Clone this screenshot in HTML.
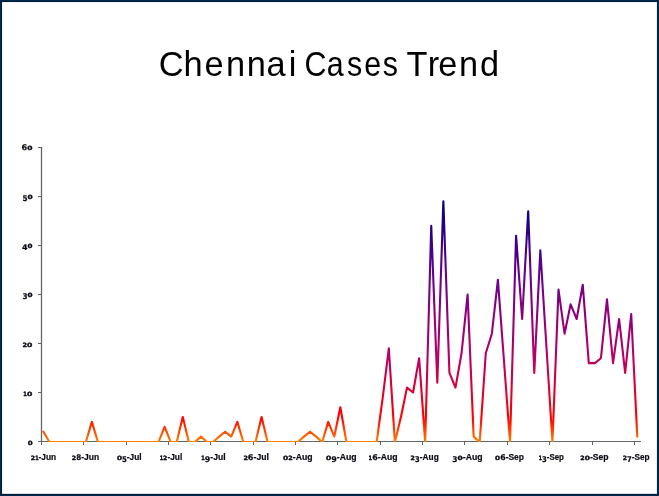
<!DOCTYPE html>
<html lang="en"><head><meta charset="utf-8"><title>Chennai Cases Trend</title>
<style>
html,body{margin:0;padding:0;background:#fff;}
body{width:659px;height:496px;overflow:hidden;position:relative;font-family:"Liberation Sans",sans-serif;}
svg{display:block;position:absolute;left:0;top:0;}
.t{font-family:"Liberation Sans",sans-serif;fill:#000;}
.l{font-family:"Liberation Sans",sans-serif;font-weight:bold;fill:#0a0a14;stroke:#0a0a14;stroke-width:0.2px;}
.d{font-family:"DejaVu Sans",sans-serif;}
.s{stroke-width:0.35px;}
</style></head><body>
<svg width="659" height="496" viewBox="0 0 659 496">
<defs>
<linearGradient id="g" gradientUnits="userSpaceOnUse" x1="0" y1="200.5" x2="0" y2="442">
<stop offset="0" stop-color="#000082"/>
<stop offset="0.3" stop-color="#66008F"/>
<stop offset="0.65" stop-color="#BA0066"/>
<stop offset="0.9" stop-color="#FF0000"/>
<stop offset="1" stop-color="#FF8200"/>
</linearGradient>
<clipPath id="c"><rect x="0" y="0" width="659" height="442"/></clipPath>
</defs>
<rect x="0" y="0" width="659" height="496" fill="#02284A"/>
<rect x="1" y="1" width="657" height="494" fill="#011D3D"/>
<rect x="2.05" y="2.05" width="654.9" height="491.8" fill="#fff"/>
<text class="t" font-size="36" transform="scale(0.9549,1)" x="166.15 192.07 214.12 236.61 258.45 279.16 302.42" y="75.8">Chennai</text>
<text class="t" font-size="36" transform="scale(0.8449,1)" x="360.28 386.67 410.63 431.00 452.88" y="75.8">Cases</text>
<text class="t" font-size="36" transform="scale(0.9521,1)" x="426.95 449.20 460.37 482.08 504.13" y="75.8">Trend</text>
<g stroke="#646464" fill="none"><line x1="41.5" y1="147" x2="41.5" y2="442" stroke-width="1.3"/><g stroke-width="1" shape-rendering="crispEdges"><line x1="38.0" y1="441.5" x2="641.0" y2="441.5"/><line x1="38.0" y1="392.5" x2="41.5" y2="392.5"/><line x1="38.0" y1="343.5" x2="41.5" y2="343.5"/><line x1="38.0" y1="294.5" x2="41.5" y2="294.5"/><line x1="38.0" y1="245.5" x2="41.5" y2="245.5"/><line x1="38.0" y1="196.5" x2="41.5" y2="196.5"/><line x1="38.0" y1="147.5" x2="41.5" y2="147.5"/><line x1="41.5" y1="441.5" x2="41.5" y2="445"/><line x1="83.5" y1="441.5" x2="83.5" y2="445"/><line x1="126.5" y1="441.5" x2="126.5" y2="445"/><line x1="168.5" y1="441.5" x2="168.5" y2="445"/><line x1="210.5" y1="441.5" x2="210.5" y2="445"/><line x1="253.5" y1="441.5" x2="253.5" y2="445"/><line x1="295.5" y1="441.5" x2="295.5" y2="445"/><line x1="337.5" y1="441.5" x2="337.5" y2="445"/><line x1="380.5" y1="441.5" x2="380.5" y2="445"/><line x1="422.5" y1="441.5" x2="422.5" y2="445"/><line x1="464.5" y1="441.5" x2="464.5" y2="445"/><line x1="507.5" y1="441.5" x2="507.5" y2="445"/><line x1="549.5" y1="441.5" x2="549.5" y2="445"/><line x1="592.5" y1="441.5" x2="592.5" y2="445"/><line x1="634.5" y1="441.5" x2="634.5" y2="445"/></g></g>
<text class="l" x="27.77" y="445.0"><tspan class="d s" font-size="5.8" textLength="4.92" lengthAdjust="spacingAndGlyphs">0</tspan></text>
<text class="l" x="23.33" y="396.0"><tspan class="d s" font-size="5.8" textLength="3.66" lengthAdjust="spacingAndGlyphs">1</tspan><tspan class="d s" font-size="5.8" textLength="5.38" lengthAdjust="spacingAndGlyphs">0</tspan></text>
<text class="l" x="22.51" y="347.0"><tspan class="d s" font-size="5.8" textLength="4.60" lengthAdjust="spacingAndGlyphs">2</tspan><tspan class="d s" font-size="5.8" textLength="5.35" lengthAdjust="spacingAndGlyphs">0</tspan></text>
<text class="l" x="22.42" y="297.0"><tspan class="d" font-size="7.9" dy="2.0" textLength="5.09" lengthAdjust="spacingAndGlyphs">3</tspan><tspan class="d s" font-size="5.8" dy="-2.0" textLength="5.09" lengthAdjust="spacingAndGlyphs">0</tspan></text>
<text class="l" x="21.97" y="248.0"><tspan class="d" font-size="7.9" dy="2.0" textLength="5.57" lengthAdjust="spacingAndGlyphs">4</tspan><tspan class="d s" font-size="5.8" dy="-2.0" textLength="4.98" lengthAdjust="spacingAndGlyphs">0</tspan></text>
<text class="l" x="22.41" y="199.0"><tspan class="d" font-size="7.9" dy="2.0" textLength="5.08" lengthAdjust="spacingAndGlyphs">5</tspan><tspan class="d s" font-size="5.8" dy="-2.0" textLength="5.18" lengthAdjust="spacingAndGlyphs">0</tspan></text>
<text class="l" x="21.47" y="150.0"><tspan class="d" font-size="7.9" textLength="5.69" lengthAdjust="spacingAndGlyphs">6</tspan><tspan class="d s" font-size="5.8" textLength="5.27" lengthAdjust="spacingAndGlyphs">0</tspan></text>
<text class="l" x="30.88" y="460.0"><tspan class="d s" font-size="5.8" textLength="4.31" lengthAdjust="spacingAndGlyphs">2</tspan><tspan class="d s" font-size="5.8" textLength="3.41" lengthAdjust="spacingAndGlyphs">1</tspan><tspan font-size="8.3" textLength="17.58" lengthAdjust="spacingAndGlyphs">-Jun</tspan></text>
<text class="l" x="71.87" y="460.0"><tspan class="d s" font-size="5.8" textLength="4.40" lengthAdjust="spacingAndGlyphs">2</tspan><tspan class="d" font-size="7.9" textLength="5.02" lengthAdjust="spacingAndGlyphs">8</tspan><tspan font-size="8.3" textLength="17.93" lengthAdjust="spacingAndGlyphs">-Jun</tspan></text>
<text class="l" x="116.90" y="460.0"><tspan class="d s" font-size="5.8" textLength="5.01" lengthAdjust="spacingAndGlyphs">0</tspan><tspan class="d" font-size="7.9" dy="2.0" textLength="4.91" lengthAdjust="spacingAndGlyphs">5</tspan><tspan font-size="8.3" dy="-2.0" textLength="14.78" lengthAdjust="spacingAndGlyphs">-Jul</tspan></text>
<text class="l" x="159.67" y="460.0"><tspan class="d s" font-size="5.8" textLength="3.42" lengthAdjust="spacingAndGlyphs">1</tspan><tspan class="d s" font-size="5.8" textLength="4.33" lengthAdjust="spacingAndGlyphs">2</tspan><tspan font-size="8.3" textLength="14.86" lengthAdjust="spacingAndGlyphs">-Jul</tspan></text>
<text class="l" x="201.30" y="460.0"><tspan class="d s" font-size="5.8" textLength="3.53" lengthAdjust="spacingAndGlyphs">1</tspan><tspan class="d" font-size="7.9" dy="2.0" textLength="5.49" lengthAdjust="spacingAndGlyphs">9</tspan><tspan font-size="8.3" dy="-2.0" textLength="15.30" lengthAdjust="spacingAndGlyphs">-Jul</tspan></text>
<text class="l" x="243.40" y="460.0"><tspan class="d s" font-size="5.8" textLength="4.49" lengthAdjust="spacingAndGlyphs">2</tspan><tspan class="d" font-size="7.9" textLength="5.64" lengthAdjust="spacingAndGlyphs">6</tspan><tspan font-size="8.3" textLength="15.42" lengthAdjust="spacingAndGlyphs">-Jul</tspan></text>
<text class="l" x="283.07" y="460.0"><tspan class="d s" font-size="5.8" textLength="5.22" lengthAdjust="spacingAndGlyphs">0</tspan><tspan class="d s" font-size="5.8" textLength="4.49" lengthAdjust="spacingAndGlyphs">2</tspan><tspan font-size="8.3" textLength="19.73" lengthAdjust="spacingAndGlyphs">-Aug</tspan></text>
<text class="l" x="326.06" y="460.0"><tspan class="d s" font-size="5.8" textLength="5.24" lengthAdjust="spacingAndGlyphs">0</tspan><tspan class="d" font-size="7.9" dy="2.0" textLength="5.56" lengthAdjust="spacingAndGlyphs">9</tspan><tspan font-size="8.3" dy="-2.0" textLength="19.82" lengthAdjust="spacingAndGlyphs">-Aug</tspan></text>
<text class="l" x="368.62" y="460.0"><tspan class="d s" font-size="5.8" textLength="3.55" lengthAdjust="spacingAndGlyphs">1</tspan><tspan class="d" font-size="7.9" textLength="5.64" lengthAdjust="spacingAndGlyphs">6</tspan><tspan font-size="8.3" textLength="19.74" lengthAdjust="spacingAndGlyphs">-Aug</tspan></text>
<text class="l" x="410.55" y="460.0"><tspan class="d s" font-size="5.8" textLength="4.31" lengthAdjust="spacingAndGlyphs">2</tspan><tspan class="d" font-size="7.9" dy="2.0" textLength="5.01" lengthAdjust="spacingAndGlyphs">3</tspan><tspan font-size="8.3" dy="-2.0" textLength="18.92" lengthAdjust="spacingAndGlyphs">-Aug</tspan></text>
<text class="l" x="452.34" y="460.0"><tspan class="d" font-size="7.9" dy="2.0" textLength="5.22" lengthAdjust="spacingAndGlyphs">3</tspan><tspan class="d s" font-size="5.8" dy="-2.0" textLength="5.22" lengthAdjust="spacingAndGlyphs">0</tspan><tspan font-size="8.3" textLength="19.73" lengthAdjust="spacingAndGlyphs">-Aug</tspan></text>
<text class="l" x="495.06" y="460.0"><tspan class="d s" font-size="5.8" textLength="5.09" lengthAdjust="spacingAndGlyphs">0</tspan><tspan class="d" font-size="7.9" textLength="5.50" lengthAdjust="spacingAndGlyphs">6</tspan><tspan font-size="8.3" textLength="18.30" lengthAdjust="spacingAndGlyphs">-Sep</tspan></text>
<text class="l" x="538.75" y="460.0"><tspan class="d s" font-size="5.8" textLength="3.24" lengthAdjust="spacingAndGlyphs">1</tspan><tspan class="d" font-size="7.9" dy="2.0" textLength="4.77" lengthAdjust="spacingAndGlyphs">3</tspan><tspan font-size="8.3" dy="-2.0" textLength="17.15" lengthAdjust="spacingAndGlyphs">-Sep</tspan></text>
<text class="l" x="580.35" y="460.0"><tspan class="d s" font-size="5.8" textLength="4.45" lengthAdjust="spacingAndGlyphs">2</tspan><tspan class="d s" font-size="5.8" textLength="5.18" lengthAdjust="spacingAndGlyphs">0</tspan><tspan font-size="8.3" textLength="18.63" lengthAdjust="spacingAndGlyphs">-Sep</tspan></text>
<text class="l" x="622.73" y="460.0"><tspan class="d s" font-size="5.8" textLength="4.27" lengthAdjust="spacingAndGlyphs">2</tspan><tspan class="d" font-size="7.9" dy="2.0" textLength="4.77" lengthAdjust="spacingAndGlyphs">7</tspan><tspan font-size="8.3" dy="-2.0" textLength="17.87" lengthAdjust="spacingAndGlyphs">-Sep</tspan></text>
<polyline points="43.40,431.70 49.46,442.00 55.52,442.00 61.58,442.00 67.64,442.00 73.70,442.00 79.76,442.00 85.82,442.00 91.88,421.90 97.94,442.00 104.00,442.00 110.06,442.00 116.12,442.00 122.18,442.00 128.24,442.00 134.30,442.00 140.36,442.00 146.42,442.00 152.48,442.00 158.54,442.00 164.60,426.80 170.66,442.00 176.72,442.00 182.78,417.00 188.84,442.00 194.90,442.00 200.96,436.60 207.02,442.00 213.08,442.00 219.14,436.60 225.20,431.70 231.26,436.60 237.32,421.90 243.38,442.00 249.44,442.00 255.50,442.00 261.56,417.00 267.62,442.00 273.68,442.00 279.74,442.00 285.80,442.00 291.86,442.00 297.92,442.00 303.98,436.60 310.04,431.70 316.10,436.60 322.16,442.00 328.22,421.90 334.28,436.60 340.34,407.20 346.40,442.00 352.46,442.00 358.52,442.00 364.58,442.00 370.64,442.00 376.70,442.00 382.76,397.40 388.82,348.40 394.88,442.00 400.94,417.00 407.00,387.60 413.06,392.50 419.12,358.20 425.18,442.00 431.24,225.90 437.30,382.70 443.36,201.40 449.42,372.90 455.48,387.60 461.54,353.30 467.60,294.50 473.66,436.60 479.72,442.00 485.78,353.30 491.84,333.70 497.90,279.80 503.96,360.65 510.02,442.00 516.08,235.70 522.14,319.00 528.20,211.20 534.26,372.90 540.32,250.40 546.38,345.95 552.44,442.00 558.50,289.60 564.56,333.70 570.62,304.30 576.68,319.00 582.74,284.70 588.80,363.10 594.86,363.10 600.92,358.20 606.98,299.40 613.04,363.10 619.10,319.00 625.16,372.90 631.22,314.10 637.28,436.60" fill="none" stroke="url(#g)" stroke-width="2.1" stroke-linejoin="round" stroke-linecap="round" clip-path="url(#c)"/>
</svg></body></html>
